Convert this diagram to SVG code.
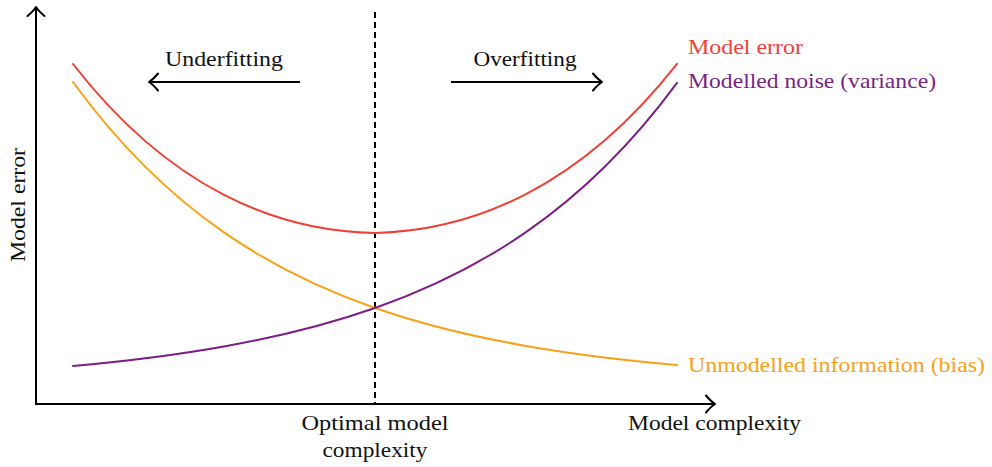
<svg xmlns="http://www.w3.org/2000/svg" width="992" height="467" viewBox="0 0 992 467">
  <style>
    .ax { fill: none; stroke: #000; stroke-width: 2; }
    .curve { fill: none; stroke-width: 2; stroke-linecap: round; }
    .t { font-family: "Liberation Serif", "DejaVu Serif", serif; font-size: 22px; fill: #111; }
    .red { stroke: #ee4136; }
    .orange { stroke: #f7a11a; }
    .purple { stroke: #7b1e85; }
    .tred { fill: #ee4136; }
    .torange { fill: #f7a11a; }
    .tpurple { fill: #7b1e85; }
  </style>
  <defs>
    <marker id="arr" markerUnits="userSpaceOnUse" markerWidth="20" markerHeight="20" refX="0" refY="0" orient="auto" viewBox="-10 -10 20 20" overflow="visible">
      <path d="M-8,-8.5 Q-3,-2.5 1,0 Q-3,2.5 -8,8.5" fill="none" stroke="#000" stroke-width="2" stroke-linecap="round" stroke-linejoin="round"/>
    </marker>
  </defs>
  <rect width="992" height="467" fill="#fff"/>

  <g id="connectors">
    <path id="y-axis" class="ax" d="M36,405 V8" marker-end="url(#arr)"/>
    <path id="x-axis" class="ax" d="M35,404 H714" marker-end="url(#arr)"/>
    <path id="optimal-line" class="ax" d="M375,12 V404" stroke-dasharray="6 4" stroke-width="2.2"/>
    <path id="underfit-arrow" class="ax" d="M300,82 H150" marker-end="url(#arr)"/>
    <path id="overfit-arrow" class="ax" d="M451,82 H601" marker-end="url(#arr)"/>
  </g>

  <g id="curves">
    <path id="bias-curve" class="curve orange" d="M73,82 C123.33,151.38 173.67,197.59 224,232.43 C274.33,267.27 324.67,290.48 375,307.98 C425.33,325.48 475.67,337.12 526,345.91 C576.33,354.7 626.67,360.57 677,364.98"/>
    <path id="variance-curve" class="curve purple" d="M73,366 C123.33,361.45 173.67,355.43 224,346.46 C274.33,337.49 324.67,325.64 375,307.98 C425.33,290.32 475.67,266.97 526,232.18 C576.33,197.39 626.67,151.42 677,82.91"/>
    <path id="error-curve" class="curve red" d="M73,64 C123.33,128.83 173.67,169.02 224,194.89 C274.33,220.76 324.67,232.12 375,232.96 C425.33,231.8 475.67,220.09 526,194.09 C576.33,168.09 626.67,127.99 677,63.89"/>
  </g>

  <g id="labels">
    <g id="label-underfitting"><text class="t" x="224" y="66" text-anchor="middle" textLength="118" lengthAdjust="spacingAndGlyphs">Underfitting</text></g>
    <g id="label-overfitting"><text class="t" x="525" y="66" text-anchor="middle" textLength="103" lengthAdjust="spacingAndGlyphs">Overfitting</text></g>
    <g id="label-model-error"><text class="t tred" x="688" y="54" textLength="115" lengthAdjust="spacingAndGlyphs">Model error</text></g>
    <g id="label-variance"><text class="t tpurple" x="688" y="88" textLength="248" lengthAdjust="spacingAndGlyphs">Modelled noise (variance)</text></g>
    <g id="label-bias"><text class="t torange" x="688" y="372" textLength="297" lengthAdjust="spacingAndGlyphs">Unmodelled information (bias)</text></g>
    <g id="label-x-axis"><text class="t" x="628" y="430" textLength="173" lengthAdjust="spacingAndGlyphs">Model complexity</text></g>
    <g id="label-optimal">
      <text class="t" x="375" y="430" text-anchor="middle" textLength="147" lengthAdjust="spacingAndGlyphs">Optimal model</text>
      <text class="t" x="375" y="457" text-anchor="middle" textLength="105" lengthAdjust="spacingAndGlyphs">complexity</text>
    </g>
    <g id="label-y-axis"><text class="t" x="0" y="0" transform="translate(25,205) rotate(-90)" text-anchor="middle" textLength="114" lengthAdjust="spacingAndGlyphs">Model error</text></g>
  </g>
</svg>
